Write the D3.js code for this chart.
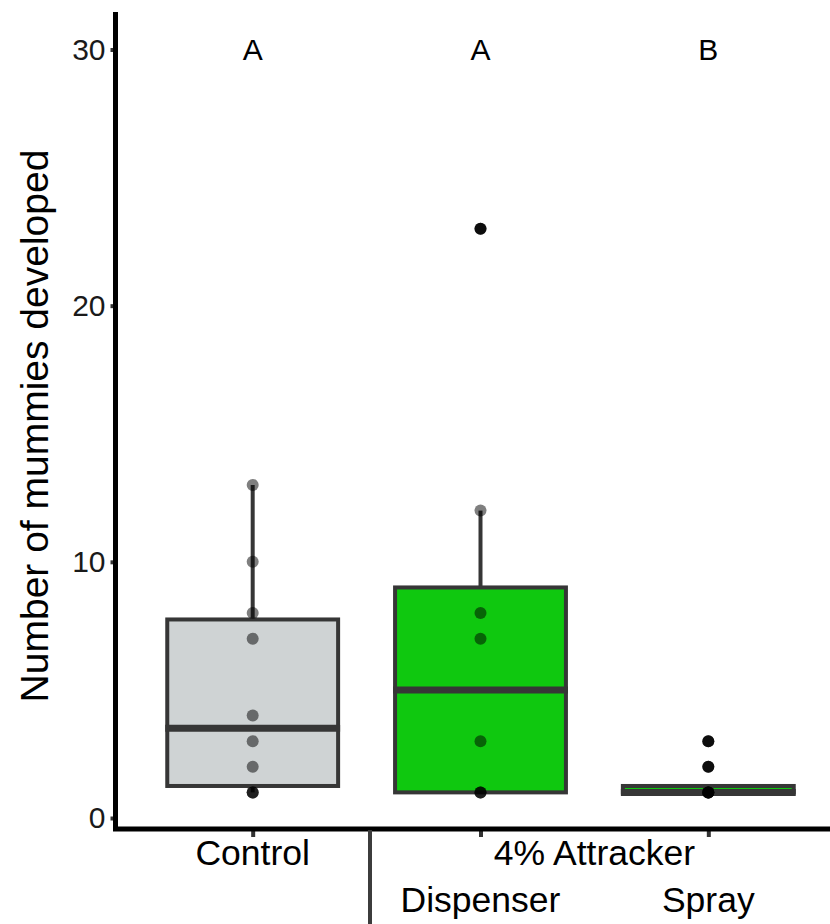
<!DOCTYPE html>
<html><head><meta charset="utf-8">
<script src="https://cdn.jsdelivr.net/npm/d3@7"></script>
<style>
html,body{margin:0;padding:0;background:#fff;}
svg{display:block;font-family:"Liberation Sans",Arial,Helvetica,sans-serif;}
</style></head>
<body>
<div id="chart"></div>
<script>
// ---- data ----
const categories = ["Control", "Dispenser", "Spray"];
const controlValues = [1, 1, 1, 2, 3, 4, 7, 8, 10, 13];
const dispenserValues = [1, 1, 1, 3, 7, 8, 12, 23];
const sprayValues = [1, 1, 1, 1, 1, 1, 2, 3];
const letters = ["A", "A", "B"];
const fills = ["#cfd3d4", "#0fc80f", "#0fc80f"];
const yTicks = [0, 10, 20, 30];
const groupLabel = "4% Attracker";
const subLabels = ["Dispenser", "Spray"];
const yTitle = "Number of mummies developed";

const seriesValues = [controlValues, dispenserValues, sprayValues];

const W = 830, H = 924;
const svg = d3.select("#chart").append("svg").attr("width", W).attr("height", H);

const x = d3.scalePoint().domain(categories).range([116, 845]).padding(0.6);
const step = x.step();
const boxW = step * 0.75;
const y = d3.scaleLinear().domain([0, 30]).range([818, 49.5]);

const stroke = "#363636";

// box stats (ggplot / R type-7 quantiles)
const stats = seriesValues.map((vals, i) => {
  const s = vals.slice().sort(d3.ascending);
  const q1 = d3.quantile(s, 0.25), med = d3.quantile(s, 0.5), q3 = d3.quantile(s, 0.75);
  const iqr = q3 - q1;
  const lo = q1 - 1.5 * iqr, hi = q3 + 1.5 * iqr;
  const inside = s.filter(v => v >= lo && v <= hi);
  return {cat: categories[i], q1, med, q3,
    wLo: d3.min(inside), wHi: d3.max(inside),
    out: s.filter(v => v < lo || v > hi), vals: s, fill: fills[i]};
});

const g = svg.append("g");

// whiskers
stats.forEach(d => {
  if (d.wHi > d.q3) g.append("line").attr("x1", x(d.cat)).attr("x2", x(d.cat))
    .attr("y1", y(d.q3)).attr("y2", y(d.wHi)).attr("stroke", stroke).attr("stroke-width", 4);
  if (d.wLo < d.q1) g.append("line").attr("x1", x(d.cat)).attr("x2", x(d.cat))
    .attr("y1", y(d.q1)).attr("y2", y(d.wLo)).attr("stroke", stroke).attr("stroke-width", 4);
});
// boxes
g.selectAll("rect.box").data(stats).join("rect").attr("class", "box")
  .attr("x", d => x(d.cat) - boxW / 2).attr("width", boxW)
  .attr("y", d => y(d.q3)).attr("height", d => y(d.q1) - y(d.q3))
  .attr("fill", d => d.fill).attr("stroke", stroke).attr("stroke-width", 4);
// medians
g.selectAll("line.med").data(stats).join("line").attr("class", "med")
  .attr("x1", d => x(d.cat) - boxW / 2 - 2).attr("x2", d => x(d.cat) + boxW / 2 + 2)
  .attr("y1", d => y(d.med)).attr("y2", d => y(d.med))
  .attr("stroke", stroke).attr("stroke-width", 7);
// outliers
stats.forEach(d => {
  g.selectAll(null).data(d.out).join("circle")
    .attr("cx", x(d.cat)).attr("cy", v => y(v)).attr("r", 6).attr("fill", "#1a1a1a");
});
// points
stats.forEach(d => {
  g.selectAll(null).data(d.vals).join("circle")
    .attr("cx", x(d.cat)).attr("cy", v => y(v)).attr("r", 6)
    .attr("fill", "#000").attr("fill-opacity", 0.5);
});

// significance letters
svg.selectAll("text.let").data(categories).join("text").attr("class", "let")
  .attr("x", d => x(d)).attr("y", y(30)).attr("dy", "0.36em")
  .attr("text-anchor", "middle").attr("font-size", 30).attr("fill", "#000")
  .text((d, i) => letters[i]);

// y axis
const yAxis = d3.axisLeft(y).tickValues(yTicks).tickSize(5).tickPadding(5);
const ya = svg.append("g").attr("transform", "translate(115.5,0)").call(yAxis);
ya.select(".domain").remove();
ya.selectAll(".tick line").attr("stroke", "#333").attr("stroke-width", 4);
ya.selectAll(".tick text").attr("font-size", 30).attr("fill", "#1a1a1a")
  .attr("font-family", '"Liberation Sans",Arial,sans-serif');
svg.append("line").attr("x1", 115.5).attr("x2", 115.5).attr("y1", 12).attr("y2", 831)
  .attr("stroke", "#000").attr("stroke-width", 5);

// x axis
const xAxis = d3.axisBottom(x).tickSize(6).tickFormat("");
const xa = svg.append("g").attr("transform", "translate(0,831)").call(xAxis);
xa.select(".domain").remove();
xa.selectAll(".tick line").attr("stroke", "#333").attr("stroke-width", 4);
svg.append("line").attr("x1", 113).attr("x2", W).attr("y1", 829).attr("y2", 829)
  .attr("stroke", "#000").attr("stroke-width", 5);

// x labels
const fsX = 35.5;
svg.append("text").attr("x", x("Control")).attr("y", 865).attr("text-anchor", "middle")
  .attr("font-size", fsX).attr("fill", "#000").text(categories[0]);
svg.append("text").attr("x", (x("Dispenser") + x("Spray")) / 2).attr("y", 865)
  .attr("text-anchor", "middle").attr("font-size", fsX).attr("fill", "#000").text(groupLabel);
svg.selectAll("text.sub").data(subLabels).join("text").attr("class", "sub")
  .attr("x", d => x(d)).attr("y", 912).attr("text-anchor", "middle")
  .attr("font-size", fsX).attr("fill", "#000").text(d => d);
// separator
svg.append("line").attr("x1", 370).attr("x2", 370).attr("y1", 830).attr("y2", H)
  .attr("stroke", "#3c3c3c").attr("stroke-width", 4);

// y title
svg.append("text").attr("transform", "translate(48,426) rotate(-90)")
  .attr("text-anchor", "middle").attr("font-size", 39).attr("fill", "#000").text(yTitle);
</script>
</body></html>
